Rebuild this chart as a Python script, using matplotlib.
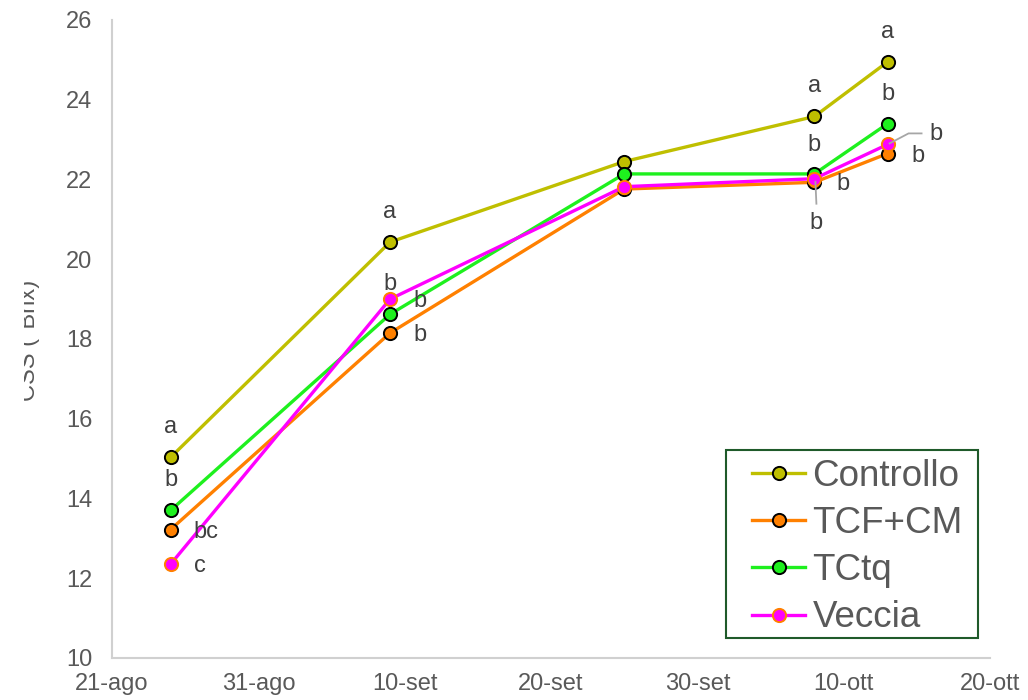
import datetime as dt
import matplotlib
matplotlib.use("Agg")
import matplotlib.pyplot as plt
import matplotlib.dates as mdates
import matplotlib.ticker as mticker
from matplotlib.lines import Line2D
from matplotlib.patches import Rectangle
from matplotlib.transforms import IdentityTransform

plt.rcParams['font.family'] = ['Liberation Sans', 'DejaVu Sans']

# ---------------- data ----------------
dates = [dt.date(2021, 8, 25), dt.date(2021, 9, 9), dt.date(2021, 9, 25),
         dt.date(2021, 10, 8), dt.date(2021, 10, 13)]
controllo = [15.03, 20.43, 22.45, 23.58, 24.95]
tcf_cm = [13.22, 18.15, 21.76, 21.93, 22.65]
tctq = [13.70, 18.62, 22.14, 22.14, 23.40]
veccia = [12.35, 19.00, 21.82, 22.02, 22.88]

series_names = ["Controllo", "TCF+CM", "TCtq", "Veccia"]
letters_controllo = ["a", "a", "", "a", "a"]
letters_tcf_cm = ["bc", "b", "", "b", "b"]
letters_tctq = ["b", "b", "", "b", "b"]
letters_veccia = ["c", "b", "", "b", "b"]

mesi = {8: "ago", 9: "set", 10: "ott"}
x_start = dt.date(2021, 8, 21)
x_end = dt.date(2021, 10, 20)
y_min, y_max, y_step = 10, 26, 2

# ---------------- style ----------------
colors = ["#bfbf00", "#ff8000", "#1ef01e", "#ff00ff"]
edge = ["black", "black", "black", "#ff8000"]
txt_col = "#595959"
lab_col = "#404040"
fs = 17

fig = plt.figure(figsize=(10.28, 7.0), dpi=100)
ax = fig.add_axes([112/1028, 42/700, 878/1028, 638/700])

all_vals = [controllo, tcf_cm, tctq, veccia]
for name, vals, c, ec in zip(series_names, all_vals, colors, edge):
    ax.plot(dates, vals, color=c, lw=2.4, marker="o", ms=9.5,
            markerfacecolor=c, markeredgecolor=ec, markeredgewidth=1.4,
            label=name, zorder=3, solid_joinstyle="round")

ax.set_xlim(x_start, x_end)
ax.set_ylim(y_min, y_max)
ax.set_yticks(range(y_min, y_max + 1, y_step))
ax.xaxis.set_major_locator(mticker.FixedLocator(
    [mdates.date2num(x_start + dt.timedelta(days=10*i)) for i in range(7)]))
ax.xaxis.set_major_formatter(mticker.FuncFormatter(
    lambda v, p: f"{mdates.num2date(v).day}-{mesi[mdates.num2date(v).month]}"))

for s in ["top", "right"]:
    ax.spines[s].set_visible(False)
for s in ["left", "bottom"]:
    ax.spines[s].set_color("#d0d0d0")
    ax.spines[s].set_linewidth(1.5)
ax.tick_params(axis="both", length=0, labelsize=fs, labelcolor=txt_col)
ax.tick_params(axis="x", pad=11)
ax.tick_params(axis="y", pad=14)

# y label (partially hidden as in the reference)
fig.text(29/1028, 1 - 340/700, "CSS (°Brix)", rotation=90, ha="center", va="center",
         fontsize=17, color=txt_col)
fig.patches.append(Rectangle((0, 0.3), 24/1028, 0.5, transform=fig.transFigure,
                             facecolor="white", edgecolor="none", zorder=10))

# significance letters (offsets in pixels)
px = 0.72
offs_controllo = [(0, 30), (0, 30), (0, 0), (0, 30), (0, 30)]
offs_tcf_cm = [(35, -2), (30, -2), (0, 0), (29, -2), (30, -2)]
offs_tctq = [(0, 30), (30, 13), (0, 0), (0, 29), (0, 30)]
offs_veccia = [(29, -2), (0, 15), (0, 0), (2, -44), (48, 10)]
for vals, letters, offs in [(controllo, letters_controllo, offs_controllo),
                            (tcf_cm, letters_tcf_cm, offs_tcf_cm),
                            (tctq, letters_tctq, offs_tctq),
                            (veccia, letters_veccia, offs_veccia)]:
    for d, v, l, o in zip(dates, vals, letters, offs):
        if l:
            ax.annotate(l, xy=(d, v), xytext=(o[0]*px, o[1]*px), textcoords="offset points",
                        ha="center", va="center", fontsize=fs, color=lab_col, zorder=5)

# leader lines for Veccia labels
fig.canvas.draw()
p4 = ax.transData.transform((mdates.date2num(dates[3]), veccia[3]))
p5 = ax.transData.transform((mdates.date2num(dates[4]), veccia[4]))
fig.lines.append(Line2D([p4[0] + 1, p4[0] + 2], [p4[1] - 3, p4[1] - 25], color="#a6a6a6",
                        lw=1.3, transform=IdentityTransform(), zorder=2))
fig.lines.append(Line2D([p5[0] + 2, p5[0] + 21, p5[0] + 34], [p5[1] + 1, p5[1] + 11, p5[1] + 11],
                        color="#a6a6a6", lw=1.3, transform=IdentityTransform(), zorder=2))

# legend (frameless) + its box
leg = ax.legend(loc="upper left", bbox_to_anchor=((752 - 112)/878, (658 - 459)/638),
                fontsize=26.5, frameon=False, handlelength=1.44, handletextpad=0.2,
                labelspacing=0.33, borderpad=0, borderaxespad=0)
for t in leg.get_texts():
    t.set_color(txt_col)
ax.add_patch(Rectangle(((726 - 112)/878, (658 - 638)/638), 252/878, 188/638,
                       transform=ax.transAxes, facecolor="none", edgecolor="#1f5a2a",
                       lw=1.5, zorder=6, clip_on=False))

fig.savefig("out.png", dpi=100)
